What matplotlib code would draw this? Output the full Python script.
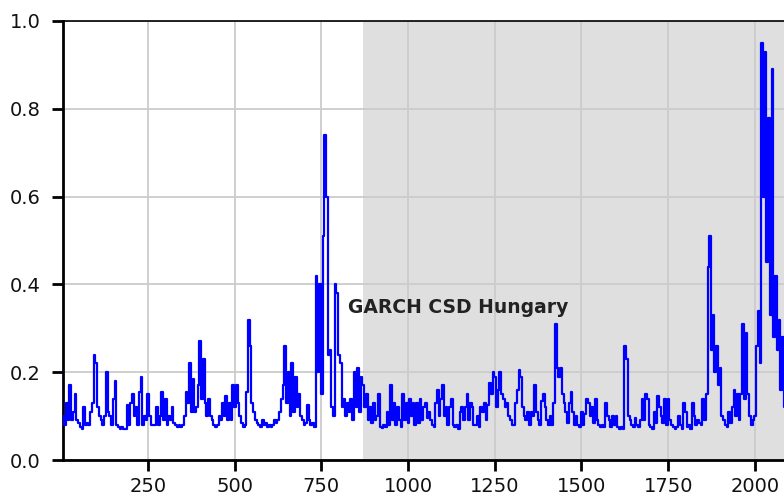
import numpy as np
import matplotlib
matplotlib.use("Agg")
import matplotlib.pyplot as plt

STEP = 5
garch_csd = [
    0.21, 0.10, 0.08, 0.13, 0.09, 0.17, 0.09, 0.11, 0.15, 0.09,
    0.085, 0.075, 0.07, 0.12, 0.08, 0.085, 0.08, 0.11, 0.13, 0.24,
    0.22, 0.12, 0.10, 0.09, 0.08, 0.10, 0.20, 0.11, 0.10, 0.08,
    0.14, 0.18, 0.08, 0.075, 0.07, 0.075, 0.07, 0.07, 0.125, 0.08,
    0.13, 0.15, 0.10, 0.12, 0.08, 0.155, 0.19, 0.08, 0.10, 0.09,
    0.15, 0.10, 0.08, 0.08, 0.08, 0.12, 0.08, 0.10, 0.155, 0.09,
    0.14, 0.08, 0.10, 0.09, 0.12, 0.085, 0.08, 0.075, 0.08, 0.075,
    0.08, 0.10, 0.155, 0.13, 0.22, 0.11, 0.185, 0.11, 0.12, 0.17,
    0.27, 0.14, 0.23, 0.13, 0.10, 0.14, 0.10, 0.09, 0.08, 0.075,
    0.08, 0.10, 0.09, 0.13, 0.10, 0.145, 0.09, 0.13, 0.09, 0.17,
    0.12, 0.17, 0.13, 0.10, 0.085, 0.075, 0.08, 0.155, 0.32, 0.26,
    0.13, 0.11, 0.09, 0.085, 0.08, 0.075, 0.09, 0.08, 0.085, 0.075,
    0.08, 0.075, 0.08, 0.09, 0.085, 0.09, 0.11, 0.14, 0.17, 0.26,
    0.13, 0.20, 0.10, 0.22, 0.11, 0.19, 0.12, 0.15, 0.10, 0.09,
    0.08, 0.085, 0.125, 0.09, 0.08, 0.085, 0.075, 0.42, 0.20, 0.40,
    0.15, 0.51, 0.74, 0.60, 0.24, 0.25, 0.12, 0.10, 0.40, 0.38,
    0.24, 0.22, 0.12, 0.14, 0.10, 0.13, 0.11, 0.14, 0.09, 0.20,
    0.12, 0.21, 0.11, 0.19, 0.17, 0.12, 0.15, 0.09, 0.12, 0.085,
    0.13, 0.09, 0.10, 0.15, 0.075, 0.072, 0.08, 0.075, 0.11, 0.08,
    0.17, 0.09, 0.13, 0.08, 0.12, 0.09, 0.075, 0.15, 0.09, 0.13,
    0.085, 0.14, 0.10, 0.13, 0.08, 0.13, 0.085, 0.14, 0.09, 0.12,
    0.13, 0.095, 0.11, 0.09, 0.08, 0.075, 0.13, 0.16, 0.10, 0.14,
    0.17, 0.10, 0.12, 0.08, 0.12, 0.14, 0.08, 0.075, 0.08, 0.07,
    0.11, 0.12, 0.09, 0.12, 0.15, 0.09, 0.13, 0.12, 0.08, 0.08,
    0.10, 0.075, 0.12, 0.11, 0.13, 0.09, 0.125, 0.175, 0.15, 0.20,
    0.19, 0.12, 0.16, 0.20, 0.15, 0.14, 0.12, 0.13, 0.10, 0.09,
    0.08, 0.08, 0.13, 0.16, 0.205, 0.19, 0.12, 0.10, 0.09, 0.11,
    0.08, 0.11, 0.10, 0.17, 0.11, 0.09, 0.08, 0.135, 0.15, 0.12,
    0.09, 0.08, 0.10, 0.08, 0.13, 0.31, 0.21, 0.19, 0.21, 0.15,
    0.13, 0.11, 0.085, 0.13, 0.155, 0.11, 0.08, 0.10, 0.08, 0.075,
    0.11, 0.08, 0.105, 0.14, 0.13, 0.10, 0.12, 0.085, 0.14, 0.09,
    0.08, 0.075, 0.08, 0.075, 0.13, 0.10, 0.09, 0.075, 0.10, 0.08,
    0.10, 0.075, 0.07, 0.075, 0.07, 0.26, 0.23, 0.10, 0.09, 0.08,
    0.075, 0.095, 0.08, 0.075, 0.09, 0.14, 0.09, 0.15, 0.14, 0.08,
    0.075, 0.07, 0.11, 0.085, 0.145, 0.12, 0.10, 0.085, 0.14, 0.08,
    0.14, 0.09, 0.08, 0.075, 0.07, 0.075, 0.10, 0.08, 0.07, 0.13,
    0.11, 0.075, 0.08, 0.07, 0.13, 0.10, 0.08, 0.09, 0.085, 0.08,
    0.14, 0.09, 0.15, 0.44, 0.51, 0.25, 0.33, 0.20, 0.26, 0.17,
    0.21, 0.10, 0.09, 0.08, 0.075, 0.11, 0.085, 0.12, 0.16, 0.10,
    0.15, 0.09, 0.15, 0.31, 0.14, 0.29, 0.15, 0.10, 0.08, 0.09,
    0.10, 0.26, 0.34, 0.22, 0.95, 0.60, 0.93, 0.45, 0.78, 0.33,
    0.89, 0.28, 0.42, 0.25, 0.32, 0.16, 0.28, 0.12,
]

SHADE_START = 870
X_TICKS = [250, 500, 750, 1000, 1250, 1500, 1750, 2000]
Y_TICKS = [0.0, 0.2, 0.4, 0.6, 0.8, 1.0]
LABEL = "GARCH CSD Hungary"

obs = np.arange(len(garch_csd)) * STEP + 1

fig = plt.figure(figsize=(7.84, 4.95), dpi=100)
# axes run off the right edge of the picture, like the cropped original
ax = fig.add_axes([63 / 784, 35 / 495, 721 / 784, 439 / 495])

ax.axvspan(SHADE_START, 2200, facecolor="#dfdfdf", edgecolor="none", zorder=0.2)
ax.plot(obs, garch_csd, color="#0000ff", linewidth=1.6,
        drawstyle="steps-mid", zorder=3)

ax.set_xlim(5, 2084)
ax.set_ylim(0, 1.0)
ax.set_xticks(X_TICKS)
ax.set_yticks(Y_TICKS)
ax.set_yticklabels(["%.1f" % v for v in Y_TICKS])

ax.set_axisbelow(True)
ax.grid(True, color="#cccccc", linewidth=1.3)

ax.spines["right"].set_visible(False)
ax.spines["left"].set_linewidth(2)
ax.spines["bottom"].set_linewidth(2)
ax.spines["top"].set_linewidth(1.2)
ax.tick_params(axis="both", direction="out", length=8, width=2,
               labelsize=14, labelcolor="#111111", pad=8)
ax.tick_params(axis="x", pad=4)

ax.text(826, 0.335, LABEL, fontsize=13.5, fontweight="bold", color="#222222",
        ha="left", va="baseline", zorder=4)

plt.savefig("out.png", dpi=100)
